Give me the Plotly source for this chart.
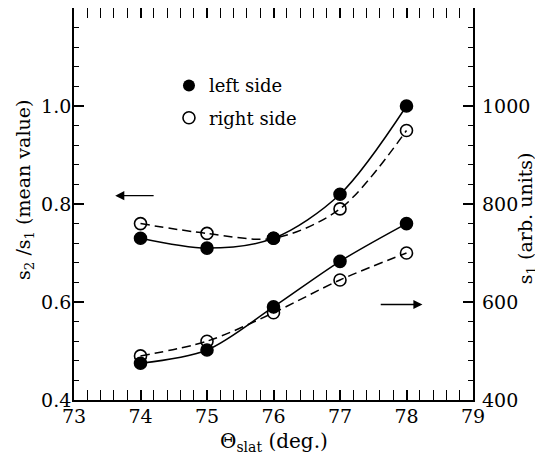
import plotly.graph_objects as go

theta = [74, 75, 76, 77, 78]
ratio_left = [0.73, 0.71, 0.73, 0.82, 1.00]
ratio_right = [0.76, 0.74, 0.73, 0.79, 0.95]
s1_left = [475, 502, 590, 683, 760]
s1_right = [490, 520, 578, 645, 700]

FONT = "DejaVu Serif"
TICK = 19
fig = go.Figure()

def add(xv, yv, filled, dash, yaxis):
    fig.add_trace(go.Scatter(
        x=xv, y=yv, yaxis=yaxis, mode="lines+markers", showlegend=False,
        line=dict(color="black", width=1.5, dash=dash, shape="spline", smoothing=0.9),
        marker=dict(size=12, symbol="circle" if filled else "circle-open",
                    color="black", line=dict(color="black", width=1.6)),
        cliponaxis=False))

add(theta, ratio_right, False, "9px,5px", "y")
add(theta, ratio_left, True, "solid", "y")
add(theta, s1_right, False, "9px,5px", "y2")
add(theta, s1_left, True, "solid", "y2")

# legend-only entries
fig.add_trace(go.Scatter(x=[None], y=[None], mode="markers", name="left side",
                         marker=dict(size=12, symbol="circle", color="black"), legendgroup="a"))
fig.add_trace(go.Scatter(x=[None], y=[None], mode="markers", name="right side",
                         marker=dict(size=12, symbol="circle-open", color="black",
                                     line=dict(color="black", width=1.6)), legendgroup="b"))

axis_common = dict(showline=True, linecolor="black", linewidth=1.8, ticks="inside",
                   tickcolor="black", showgrid=False, zeroline=False, automargin=False,
                   tickfont=dict(family=FONT, size=TICK, color="black"))

# page body has an 8px default margin, so the figure is sized to fit the window
W, H = 535, 457
L, R, T, B = 66, 70, 0, 65

fig.update_layout(
    width=W, height=H,
    margin=dict(l=L, r=R, t=T, b=B, autoexpand=False),
    paper_bgcolor="white", plot_bgcolor="white",
    font=dict(family=FONT, size=TICK, color="black"),
    showlegend=True,
    legend=dict(x=0.238, y=0.849, xanchor="left", yanchor="top", bgcolor="rgba(0,0,0,0)",
                font=dict(family=FONT, size=18, color="black"), tracegroupgap=6, itemwidth=30),
    xaxis=dict(range=[73, 79], dtick=1, tick0=73, ticklen=10, tickwidth=1.5, mirror="allticks",
               ticklabelstandoff=-2,
               minor=dict(dtick=0.2, ticklen=5, ticks="inside", tickcolor="black", tickwidth=1.2),
               **axis_common),
    yaxis=dict(range=[0.4, 1.2], tickvals=[0.4, 0.6, 0.8, 1.0], ticktext=["0.4", "0.6", "0.8", "1.0"],
               ticklen=10, tickwidth=1.5, mirror="allticks", ticklabelstandoff=-3,
               minor=dict(dtick=0.04, tick0=0.4, ticklen=5, ticks="inside", tickcolor="black", tickwidth=1.2),
               **axis_common),
    yaxis2=dict(range=[400, 1200], overlaying="y", side="right", tickvals=[400, 600, 800, 1000],
                ticklen=0, showline=False, showgrid=False, zeroline=False, ticks="", automargin=False,
                ticklabelstandoff=8,
                tickfont=dict(family=FONT, size=TICK, color="black")),
)

# axis titles as annotations (placed like the reference)
fig.add_annotation(text="Θ<sub>slat</sub> (deg.)", xref="paper", yref="paper", x=0.5, y=-0.107,
                   xanchor="center", yanchor="middle", showarrow=False,
                   font=dict(family=FONT, size=20, color="black"))
fig.add_annotation(text="s<sub>2</sub> /s<sub>1</sub> (mean value)", xref="paper", yref="paper",
                   x=-0.1228, y=0.536, xanchor="center", yanchor="middle", textangle=-90,
                   showarrow=False, font=dict(family=FONT, size=19, color="black"))
fig.add_annotation(text="s<sub>1</sub> (arb. units)", xref="paper", yref="paper",
                   x=1.133, y=0.464, xanchor="center", yanchor="middle", textangle=-90,
                   showarrow=False, font=dict(family=FONT, size=19, color="black"))

# arrows indicating which axis applies
fig.add_annotation(x=73.62, y=0.817, ax=74.22, ay=0.817, xref="x", yref="y", axref="x", ayref="y",
                   showarrow=True, arrowhead=2, arrowsize=1.3, arrowwidth=1.4, arrowcolor="black", text="")
fig.add_annotation(x=78.24, y=0.595, ax=77.59, ay=0.595, xref="x", yref="y", axref="x", ayref="y",
                   showarrow=True, arrowhead=2, arrowsize=1.3, arrowwidth=1.4, arrowcolor="black", text="")

fig.write_html("out.html")
